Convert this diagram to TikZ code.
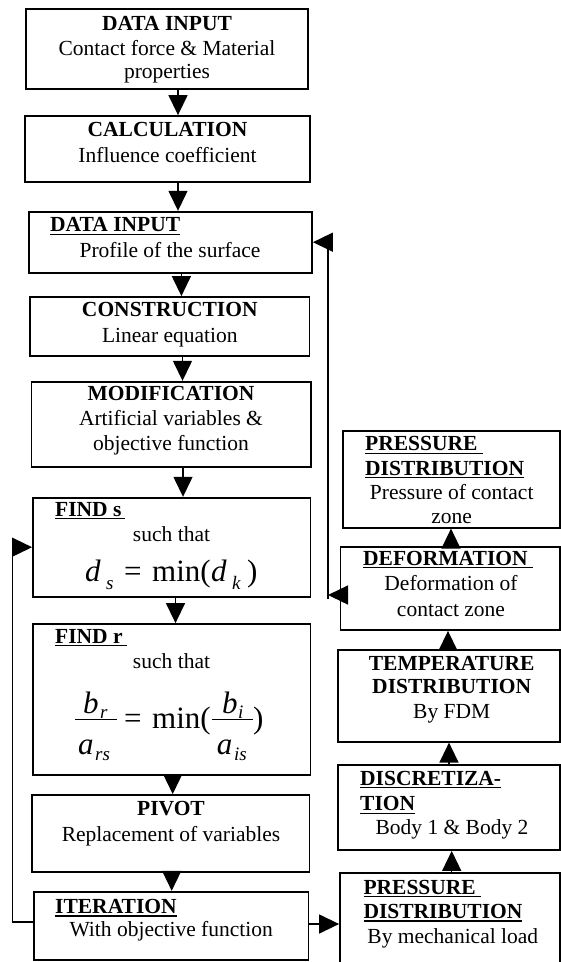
\documentclass[tikz,border=0pt]{standalone}
\usepackage{fontspec}
\setmainfont{Liberation Serif}
\usetikzlibrary{arrows.meta,fit}

% underlined heading text, rule drawn a little below the baseline
\newsavebox\ulbox
\newcommand{\ulin}[1]{\sbox\ulbox{#1}\rlap{\rule[-3.4pt]{\wd\ulbox}{1.4pt}}\usebox\ulbox}

\begin{document}
\begin{tikzpicture}[x=1pt,y=-1pt,
  box/.style={draw, line width=1.8pt, inner sep=0pt},
  txt/.style={anchor=base, inner sep=0pt, font=\fontsize{21.5}{24}\selectfont},
  hd/.style={txt, font=\fontsize{21.5}{24}\selectfont\bfseries},
  hdl/.style={hd, anchor=base west},
  fm/.style={anchor=base west, inner sep=0pt, font=\fontsize{31}{31}\selectfont},
  fmi/.style={fm, font=\fontsize{31}{31}\selectfont\itshape},
  fsub/.style={anchor=base west, inner sep=0pt, font=\fontsize{19}{19}\selectfont\itshape},
  bar/.style={line width=1.5pt},
  arr/.style={line width=1.4pt, -{Triangle[length=20pt,width=19pt]}},
  conn/.style={line width=1.4pt}]
\useasboundingbox (0,0) rectangle (561,962);
\clip (0,0) rectangle (561,962);
\fill[white] (0,0) rectangle (561,962);

% ---------- left column ----------
\node[box, fit={(26,9.3)(308,89.3)}] (di1) {};
\node[hd]  (di1a) at (167,30) {DATA INPUT};
\node[txt] (di1b) at (167,55) {Contact force \& Material};
\node[txt] (di1c) at (167,78) {properties};

\node[box, fit={(25,116)(310,181.7)}] (calc) {};
\node[hd]  (calca) at (167.5,136.7) {CALCULATION};
\node[txt] (calcb) at (167.5,162.7) {Influence coefficient};

\node[box, fit={(28.6,211.7)(312,272.7)}] (di2) {};
\node[hdl] (di2a) at (50,231.7) {\ulin{DATA INPUT}};
\node[txt] (di2b) at (170,257.3) {Profile of the surface};

\node[box, fit={(30,297)(309.5,356)}] (cons) {};
\node[hd]  (consa) at (169.8,316.7) {CONSTRUCTION};
\node[txt] (consb) at (169.8,342.7) {Linear equation};

\node[box, fit={(31.5,381.7)(311,466.7)}] (modi) {};
\node[hd]  (modia) at (171,400) {MODIFICATION};
\node[txt] (modib) at (171,425) {Artificial variables \&};
\node[txt] (modic) at (171,450.7) {objective function};

\node[box, fit={(33,497.7)(310.5,596.7)}] (finds) {};
\node[hdl] (findsa) at (55,516) {\ulin{FIND s\kern4pt}};
\node[txt] (findsb) at (171.5,541.7) {such that};
% d_s = min(d_k)
\node[fmi]  (fs1) at (85,581)  {d};
\node[fsub] (fs2) at (106,589) {s};
\node[fm]   (fs3) at (124,581) {=};
\node[fm]   (fs4) at (152,581) {min(};
\node[fmi]  (fs5) at (211,581) {d};
\node[fsub] (fs6) at (232,589) {k};
\node[fm]   (fs7) at (247,581) {)};

\node[box, fit={(33,624)(310.5,775)}] (findr) {};
\node[hdl] (findra) at (55,643) {\ulin{FIND r\kern4pt}};
\node[txt] (findrb) at (171.5,668) {such that};
% b_r / a_rs = min( b_i / a_is )
\node[fmi]  (fr1) at (83,713)  {b};
\node[fsub] (fr2) at (100,718.5) {r};
\draw[bar] (75,719.5) -- (116.7,719.5);
\node[fmi]  (fr3) at (78,754)  {a};
\node[fsub] (fr4) at (95,760)  {rs};
\node[fm]   (fr5) at (124,728) {=};
\node[fm]   (fr6) at (152,728) {min(};
\node[fmi]  (fr7) at (222,713) {b};
\node[fsub] (fr8) at (238,718.5) {i};
\draw[bar] (211.7,719.5) -- (253.3,719.5);
\node[fmi]  (fr9) at (216.7,754) {a};
\node[fsub] (fr10) at (234,760) {is};
\node[fm]   (fr11) at (253,728) {)};

\node[box, fit={(32,795)(309.5,871.7)}] (pivot) {};
\node[hd]  (pivota) at (171,815) {PIVOT};
\node[txt] (pivotb) at (171,841) {Replacement of variables};

\node[box, fit={(34,891.7)(308.4,960)}] (iter) {};
\node[hdl] (itera) at (55,913.3) {\ulin{ITERATION}};
\node[txt] (iterb) at (171.2,936.7) {With objective function};

% ---------- right column ----------
\node[box, fit={(342.7,430.7)(560,527.7)}] (ptop) {};
\node[hdl] (ptopa) at (365,450.7) {\ulin{PRESSURE\kern5pt}};
\node[hdl] (ptopb) at (365,475) {\ulin{DISTRIBUTION}};
\node[txt] (ptopc) at (451.7,499.3) {Pressure of contact};
\node[txt] (ptopd) at (451.7,523.3) {zone};

\node[box, fit={(340.5,546.7)(560,630)}] (defo) {};
\node[hdl] (defoa) at (363,565) {\ulin{DEFORMATION\kern5pt}};
\node[txt] (defob) at (451,590) {Deformation of};
\node[txt] (defoc) at (451,616) {contact zone};

\node[box, fit={(338.3,650)(560,741.7)}] (temp) {};
\node[hd]  (tempa) at (451.7,670) {TEMPERATURE};
\node[hd]  (tempb) at (451.7,693.3) {DISTRIBUTION};
\node[txt] (tempc) at (451.7,718.3) {By FDM};

\node[box, fit={(337.7,765)(560,850)}] (disc) {};
\node[hdl] (disca) at (360,785) {\ulin{DISCRETIZA-}};
\node[hdl] (discb) at (360,810.7) {\ulin{TION}};
\node[txt] (discc) at (452,834.3) {Body 1 \& Body 2};

\node[box, fit={(340,873.3)(560,968)}] (pbot) {};
\node[hdl] (pbota) at (363.3,894) {\ulin{PRESSURE\kern5pt}};
\node[hdl] (pbotb) at (363.3,918.3) {\ulin{DISTRIBUTION}};
\node[txt] (pbotc) at (452.8,943.3) {By mechanical load};

% ---------- connectors ----------
\coordinate (x1) at (178,0);
\coordinate (x2) at (178,0);
\coordinate (x3) at (181.4,0);
\coordinate (x4) at (182.5,0);
\coordinate (x5) at (183,0);
\coordinate (x6) at (175.5,0);
\coordinate (x7) at (172.7,0);
\coordinate (x8) at (171.7,0);
\draw[arr] (di1.south -| x1)   -- (calc.north -| x1);
\draw[arr] (calc.south -| x2)  -- (di2.north -| x2);
\draw[arr] (di2.south -| x3)   -- (cons.north -| x3);
\draw[arr] (cons.south -| x4)  -- (modi.north -| x4);
\draw[arr] (modi.south -| x5)  -- (finds.north -| x5);
\draw[arr] (finds.south -| x6) -- (findr.north -| x6);
\draw[arr] (findr.south -| x7) -- (pivot.north -| x7);
\draw[arr] (pivot.south -| x8) -- (iter.north -| x8);

\coordinate (ip) at (0,924);
\draw[arr] (iter.east |- ip) -- (pbot.west |- ip);

\coordinate (y1) at (451.7,0);
\coordinate (y2) at (449,0);
\coordinate (y3) at (448,0);
\coordinate (y4) at (451,0);
\draw[arr] (pbot.north -| y1) -- (disc.south -| y1);
\draw[arr] (disc.north -| y2) -- (temp.south -| y2);
\draw[arr] (temp.north -| y3) -- (defo.south -| y3);
\draw[arr] (defo.north -| y4) -- (ptop.south -| y4);

% feedback from the deformation back to the surface profile
\coordinate (rp) at (328,595);
\draw[arr] (defo.west |- rp) -- (rp);
\draw[arr] ([yshift=-4pt]rp) |- (di2.east);

% iteration loop back to FIND s
\coordinate (lp) at (12.3,922);
\draw[arr] (iter.west |- lp) -- (lp) |- (finds.west);
\end{tikzpicture}
\end{document}
